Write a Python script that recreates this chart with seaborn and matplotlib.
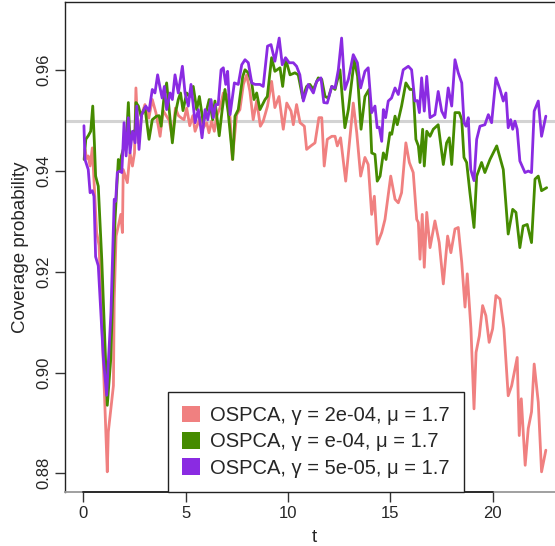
import matplotlib
matplotlib.use("Agg")
import matplotlib.pyplot as plt
from matplotlib.patches import Patch
import seaborn as sns
import pandas as pd

# coverage curves (t, coverage)
t_red = [0.08, 0.16, 0.24, 0.33, 0.44, 0.65, 0.77, 1.17, 1.22, 1.47, 1.51, 1.6, 1.71, 1.83, 1.91, 1.95,
         2.15, 2.28, 2.4, 2.5, 2.57, 2.69, 2.85, 3.01, 3.2, 3.37, 3.55, 3.75, 3.9, 4.05, 4.2, 4.35, 4.5,
         4.65, 4.8, 4.92, 5.05, 5.2, 5.35, 5.46, 5.7, 5.81, 6.03, 6.14, 6.27, 6.4, 6.52, 6.68, 6.84, 7.0,
         7.17, 7.28, 7.49, 7.65, 7.82, 7.98, 8.14, 8.3, 8.47, 8.65, 8.79, 9.0, 9.2, 9.36, 9.56, 9.77, 9.94,
         10.15, 10.26, 10.42, 10.59, 10.8, 10.91, 11.12, 11.32, 11.51, 11.65, 11.77, 11.92, 12.14, 12.3,
         12.41, 12.57, 12.82, 13.0, 13.19, 13.36, 13.55, 13.76, 13.92, 14.09, 14.22, 14.36, 14.58, 14.74,
         15.02, 15.23, 15.39, 15.55, 15.76, 15.93, 16.12, 16.29, 16.37, 16.45, 16.56, 16.66, 16.78, 16.94,
         17.18, 17.39, 17.59, 17.8, 17.96, 18.16, 18.32, 18.49, 18.65, 18.76, 18.94, 19.09, 19.19, 19.35,
         19.51, 19.67, 19.83, 20.0, 20.16, 20.36, 20.55, 20.76, 20.93, 21.2, 21.3, 21.4, 21.59, 21.74,
         21.9, 22.03, 22.23, 22.39, 22.6]
cov_red = [0.9443, 0.9425, 0.943, 0.941, 0.9446, 0.9278, 0.9252, 0.8803, 0.8882, 0.8974, 0.9146, 0.9271,
           0.9291, 0.9314, 0.9278, 0.9403, 0.9377, 0.9436, 0.941, 0.9436, 0.9565, 0.9456, 0.9512, 0.9532,
           0.9505, 0.9542, 0.9515, 0.9469, 0.952, 0.951, 0.950, 0.9465, 0.9525, 0.951, 0.9505, 0.9502,
           0.9525, 0.949, 0.951, 0.9479, 0.9506, 0.9483, 0.9496, 0.9476, 0.9499, 0.9479, 0.9509, 0.9526,
           0.9555, 0.9552, 0.9506, 0.9423, 0.9512, 0.9522, 0.9572, 0.9591, 0.9558, 0.9502, 0.9539, 0.9489,
           0.9499, 0.9529, 0.9578, 0.9526, 0.9548, 0.9483, 0.9535, 0.9519, 0.9492, 0.9532, 0.9496, 0.9489,
           0.9443, 0.945, 0.9456, 0.9506, 0.9506, 0.941, 0.9463, 0.9469, 0.9469, 0.945, 0.9466, 0.938,
           0.9456, 0.9535, 0.9476, 0.939, 0.9427, 0.9413, 0.9314, 0.935, 0.9255, 0.9278, 0.9304, 0.939,
           0.9344, 0.9337, 0.9357, 0.9456, 0.9417, 0.9397, 0.9304, 0.9298, 0.9225, 0.9314, 0.9209, 0.9318,
           0.9248, 0.9301, 0.9258, 0.9176, 0.9271, 0.9238, 0.9285, 0.9288, 0.9219, 0.913, 0.9196, 0.9087,
           0.8928, 0.904, 0.9073, 0.9133, 0.9113, 0.906, 0.9087, 0.9153, 0.9146, 0.9087, 0.8954, 0.8974,
           0.903, 0.8875, 0.8948, 0.8816, 0.8889, 0.8922, 0.9017, 0.8941, 0.8803, 0.8846]

t_green = [0.04, 0.12, 0.24, 0.36, 0.46, 0.54, 0.6, 0.73, 0.9, 1.17, 1.34, 1.55, 1.71, 1.79, 1.86, 2.0,
           2.1, 2.2, 2.28, 2.4, 2.53, 2.57, 2.69, 2.82, 3.01, 3.21, 3.37, 3.58, 3.7, 3.8, 3.95, 4.07, 4.2,
           4.35, 4.5, 4.64, 4.75, 4.87, 5.05, 5.2, 5.37, 5.54, 5.67, 5.86, 6.03, 6.15, 6.32, 6.43, 6.64,
           6.78, 6.92, 7.08, 7.3, 7.41, 7.57, 7.79, 7.9, 8.06, 8.23, 8.34, 8.47, 8.63, 8.88, 8.99, 9.2,
           9.36, 9.61, 9.74, 9.89, 10.1, 10.34, 10.5, 10.72, 10.91, 11.07, 11.24, 11.48, 11.65, 11.81,
           11.97, 12.14, 12.3, 12.54, 12.78, 12.95, 13.24, 13.4, 13.57, 13.76, 13.96, 14.09, 14.25, 14.36,
           14.5, 14.66, 14.79, 14.98, 15.07, 15.23, 15.34, 15.55, 15.76, 15.96, 16.12, 16.25, 16.37, 16.45,
           16.58, 16.66, 16.78, 16.94, 17.1, 17.34, 17.59, 17.75, 17.88, 18.0, 18.16, 18.37, 18.49, 18.6,
           18.73, 18.89, 19.09, 19.22, 19.46, 19.62, 19.87, 20.2, 20.52, 20.76, 20.98, 21.14, 21.33, 21.49,
           21.69, 21.9, 22.07, 22.23, 22.39, 22.64]
cov_green = [0.9423, 0.9463, 0.947, 0.9479, 0.9529, 0.9456, 0.939, 0.937, 0.9225, 0.8935, 0.9027, 0.9304,
             0.9423, 0.9403, 0.943, 0.945, 0.946, 0.9536, 0.9456, 0.947, 0.9483, 0.9536, 0.9529, 0.9509,
             0.9526, 0.9463, 0.9502, 0.9509, 0.951, 0.9489, 0.955, 0.9575, 0.952, 0.9456, 0.9515, 0.9542,
             0.9555, 0.952, 0.9555, 0.9548, 0.9568, 0.9522, 0.9548, 0.9496, 0.9522, 0.9542, 0.9502, 0.9539,
             0.947, 0.952, 0.9562, 0.9516, 0.9423, 0.9509, 0.9522, 0.9588, 0.9601, 0.9595, 0.9575, 0.9542,
             0.9555, 0.9522, 0.9542, 0.9548, 0.9625, 0.9598, 0.9605, 0.9568, 0.9622, 0.9591, 0.9595, 0.9591,
             0.9545, 0.9568, 0.9572, 0.9562, 0.9585, 0.9582, 0.9548, 0.9545, 0.9568, 0.9562, 0.9601, 0.9486,
             0.9522, 0.9621, 0.9588, 0.9483, 0.9548, 0.9562, 0.9436, 0.9433, 0.938, 0.939, 0.9436, 0.9423,
             0.9476, 0.9473, 0.9509, 0.9492, 0.9529, 0.9575, 0.9562, 0.9562, 0.9463, 0.945, 0.9417, 0.9483,
             0.941, 0.9479, 0.9469, 0.9483, 0.9492, 0.9413, 0.9456, 0.9466, 0.9413, 0.9516, 0.9516, 0.9502,
             0.9427, 0.9417, 0.9357, 0.9288, 0.939, 0.9417, 0.9397, 0.9423, 0.945, 0.9403, 0.9275, 0.9324,
             0.9318, 0.9248, 0.9291, 0.9294, 0.9258, 0.9384, 0.939, 0.9361, 0.9367]

t_purple = [0.03, 0.08, 0.24, 0.33, 0.44, 0.52, 0.6, 0.73, 0.98, 1.14, 1.35, 1.51, 1.58, 1.66, 1.77, 1.88,
            1.99, 2.09, 2.2, 2.28, 2.4, 2.53, 2.61, 2.72, 2.85, 3.05, 3.21, 3.37, 3.5, 3.63, 3.75, 3.85,
            3.96, 4.07, 4.24, 4.35, 4.48, 4.64, 4.84, 4.97, 5.13, 5.26, 5.46, 5.62, 5.8, 5.95, 6.08, 6.24,
            6.35, 6.47, 6.59, 6.73, 6.84, 6.96, 7.05, 7.17, 7.38, 7.57, 7.74, 7.9, 8.06, 8.23, 8.39, 8.63,
            8.79, 9.0, 9.17, 9.36, 9.57, 9.72, 9.88, 10.06, 10.26, 10.42, 10.58, 10.75, 10.99, 11.24, 11.4,
            11.61, 11.75, 11.92, 12.14, 12.3, 12.46, 12.62, 12.78, 12.95, 13.19, 13.39, 13.55, 13.76, 13.92,
            14.09, 14.25, 14.36, 14.46, 14.58, 14.66, 14.77, 14.9, 15.06, 15.23, 15.39, 15.63, 15.88, 16.04,
            16.2, 16.32, 16.42, 16.53, 16.66, 16.78, 16.94, 17.18, 17.34, 17.51, 17.67, 17.83, 18.0, 18.16,
            18.32, 18.49, 18.6, 18.7, 18.81, 18.93, 19.09, 19.22, 19.38, 19.62, 19.79, 19.95, 20.16, 20.36,
            20.52, 20.65, 20.76, 20.88, 20.98, 21.09, 21.2, 21.33, 21.58, 21.74, 21.9, 22.03, 22.23, 22.39,
            22.6]
cov_purple = [0.949, 0.9423, 0.9403, 0.9357, 0.9361, 0.935, 0.923, 0.9212, 0.9027, 0.8955, 0.912, 0.9344,
              0.934, 0.9397, 0.94, 0.9397, 0.9496, 0.943, 0.9506, 0.9436, 0.9479, 0.9456, 0.9529, 0.9443,
              0.9512, 0.9529, 0.9519, 0.9562, 0.9555, 0.9591, 0.9565, 0.9545, 0.9568, 0.9522, 0.9555, 0.9542,
              0.9591, 0.9555, 0.9608, 0.9555, 0.9529, 0.9572, 0.9496, 0.9522, 0.9466, 0.9522, 0.9502, 0.9542,
              0.9506, 0.9532, 0.9532, 0.9601, 0.9605, 0.9572, 0.9598, 0.9512, 0.9575, 0.9572, 0.9611, 0.9621,
              0.9615, 0.9575, 0.9572, 0.9572, 0.9568, 0.9648, 0.9651, 0.9618, 0.9664, 0.9611, 0.9625, 0.9615,
              0.9615, 0.9608, 0.9591, 0.9539, 0.9572, 0.9555, 0.9578, 0.9585, 0.9536, 0.9535, 0.9568, 0.9565,
              0.9601, 0.9664, 0.9562, 0.9582, 0.9631, 0.9615, 0.9565, 0.9598, 0.9605, 0.9516, 0.9529, 0.9486,
              0.9487, 0.9459, 0.9522, 0.9506, 0.9539, 0.9545, 0.9565, 0.9552, 0.9601, 0.9608, 0.9601, 0.9539,
              0.954, 0.9516, 0.9585, 0.9519, 0.9588, 0.9506, 0.9512, 0.9558, 0.9519, 0.9506, 0.9565, 0.9529,
              0.9621, 0.9595, 0.9575, 0.9496, 0.9489, 0.9506, 0.9403, 0.9381, 0.9463, 0.9489, 0.9492, 0.9512,
              0.9496, 0.9585, 0.9562, 0.9539, 0.9555, 0.9486, 0.9502, 0.9483, 0.9499, 0.9483, 0.942, 0.9397,
              0.94, 0.9397, 0.9519, 0.9539, 0.9469, 0.9509]

labels = ["OSPCA, γ = 2e-04, μ = 1.7",
          "OSPCA, γ = e-04, μ = 1.7",
          "OSPCA, γ = 5e-05, μ = 1.7"]
colors = ["#F08080", "#458B00", "#8A2BE2"]
nominal = 0.95

frames = []
for lab, t, c in zip(labels, [t_red, t_green, t_purple], [cov_red, cov_green, cov_purple]):
    frames.append(pd.DataFrame({"t": t, "coverage": c, "method": lab}))
df = pd.concat(frames, ignore_index=True)

sns.set_theme(style="ticks")
plt.rcParams["font.family"] = ["Liberation Sans", "DejaVu Sans"]

fig = plt.figure(figsize=(5.55, 5.46), dpi=100)
ax = fig.add_axes([0.1177, 0.0995, 0.899, 0.8963])

ax.axhline(nominal, color="#d3d3d3", lw=2.2, zorder=1)
sns.lineplot(data=df, x="t", y="coverage", hue="method", hue_order=labels,
             palette=dict(zip(labels, colors)), estimator=None, sort=False,
             lw=2.0, legend=False, ax=ax, zorder=2)

ax.set_xlim(-0.88, 23.5)
ax.set_ylim(0.87636, 0.9735)
ax.set_xticks([0, 5, 10, 15, 20])
ax.set_yticks([0.88, 0.90, 0.92, 0.94, 0.96])
ax.set_yticklabels(["0.88", "0.90", "0.92", "0.94", "0.96"], rotation=90, va="center")
ax.tick_params(axis="both", direction="out", length=7, width=1, color="#333333",
               labelsize=12, pad=3)
ax.set_xlabel("t", fontsize=13.5, labelpad=6)
ax.set_ylabel("Coverage probability", fontsize=13.5, labelpad=5)

for side in ["top", "left", "right"]:
    ax.spines[side].set_color("#222222")
    ax.spines[side].set_linewidth(1.0)
ax.spines["bottom"].set_color("#999999")
ax.spines["bottom"].set_linewidth(1.3)
y0 = ax.get_ylim()[0]
ax.plot([0, 20], [y0, y0], color="#222222", lw=1.3, clip_on=False, zorder=5)

handles = [Patch(facecolor=c, edgecolor="none") for c in colors]
leg = ax.legend(handles, labels, loc="lower left", bbox_to_anchor=(0.206, 0.0),
                borderaxespad=0, fontsize=14.5, handlelength=0.88, handleheight=0.88,
                handletextpad=0.5, labelspacing=0.35, borderpad=0.7, fancybox=False,
                framealpha=1)
leg.get_frame().set_edgecolor("#222222")
leg.get_frame().set_linewidth(1.0)

fig.savefig("out.png", dpi=100)
